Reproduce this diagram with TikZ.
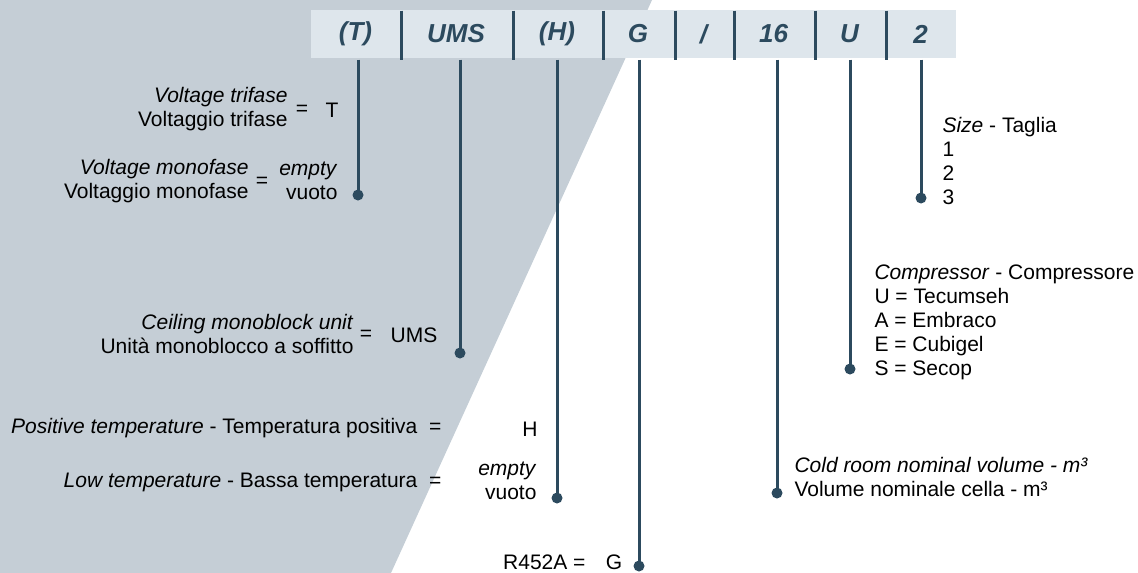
\documentclass[tikz,border=0pt]{standalone}
\usepackage{fontspec}
\setmainfont{Liberation Sans}
\definecolor{panelgray}{HTML}{C5CED6}
\definecolor{barfill}{HTML}{DEE6EC}
\definecolor{codeblue}{HTML}{2C4A5E}
\tikzset{
every picture/.style={line width=3pt},
cell/.style={inner sep=0pt, minimum height=48, text=codeblue,
  font=\fontsize{26}{30}\selectfont\bfseries\itshape},
lbl/.style={inner sep=0pt, text=black, font=\fontsize{21}{24}\selectfont},
lead/.style={draw=codeblue},
}

\begin{document}
\begin{tikzpicture}[x=1pt, y=-1pt]
    \useasboundingbox (0,0) rectangle (1138,573);
    \fill[panelgray] (0,0) -- (652,0) -- (391,573) -- (0,573) -- cycle;
    \fill[barfill] (311,10) rectangle (956,58);
    % code cells
    \foreach \nm/\cx/\cw/\txt in {t/355.5/89/(T), ums/456/112/UMS, h/557/90/(H),
        g/638/72/G, sl/703.5/59/{/}, v/773.5/81/16, u/849.5/71/U, s/920.5/71/2} {
      \node[cell, minimum width=\cw] (\nm) at (\cx,34) {\txt};
    }
    \foreach \nm in {t,ums,h,g,sl,v,u} {
      \draw[lead, shorten <=2pt] (\nm.north east) -- (\nm.south east);
    }
    \coordinate (dt) at (358,195);
    \coordinate (dums) at (460,353);
    \coordinate (dh) at (557,498);
    \coordinate (dg) at (639,566);
    \coordinate (dv) at (777,493);
    \coordinate (du) at (850,369);
    \coordinate (ds) at (921,198);
    \foreach \nm in {t,ums,h,g,v,u,s} {
      \draw[lead] (d\nm |- \nm.south) -- (d\nm);
      \fill[codeblue] (d\nm) circle (5.5);
    }
    % labels
    \node[lbl, align=right, anchor=east] (vtri) at (289,109) {\textit{Voltage trifase}\\Voltaggio trifase};
    \node[lbl] (eqtri) at (302,110) {=};
    \node[lbl] (valtri) at (332,110) {T};
    \node[lbl, align=right, anchor=east] (vmono) at (250,181) {\textit{Voltage monofase}\\Voltaggio monofase};
    \node[lbl] (eqmono) at (262,182) {=};
    \node[lbl, align=right, anchor=east] (valmono) at (339,181) {\textit{empty}\\vuoto};
    \node[lbl, align=right, anchor=east] (ceil) at (355,334) {\textit{Ceiling monoblock unit}\\Unità monoblocco a soffitto};
    \node[lbl] (eqceil) at (366,335) {=};
    \node[lbl] (valceil) at (414,335) {UMS};
    \node[lbl, anchor=east] (pos) at (443,428) {\textit{Positive temperature} - Temperatura positiva\hspace{6pt} =};
    \node[lbl] (valpos) at (530,429) {H};
    \node[lbl, anchor=east] (low) at (443,482) {\textit{Low temperature} - Bassa temperatura\hspace{6pt} =};
    \node[lbl, align=right, anchor=east] (vallow) at (538,481) {\textit{empty}\\vuoto};
    \node[lbl, anchor=east] (gas) at (587,562) {R452A =};
    \node[lbl] (valgas) at (614,562) {G};
    \node[lbl, align=left, anchor=west] (vol) at (793,477) {\textit{Cold room nominal volume - m³}\\Volume nominale cella - m³};
    \node[lbl, align=left, anchor=west] (comp) at (873,322) {\textit{Compressor} - Compressore\\U = Tecumseh\\A = Embraco\\E = Cubigel\\S = Secop};
    \node[lbl, align=left, anchor=west] (size) at (941,161) {\textit{Size} - Taglia\\1\\2\\3};
\end{tikzpicture}
\end{document}
